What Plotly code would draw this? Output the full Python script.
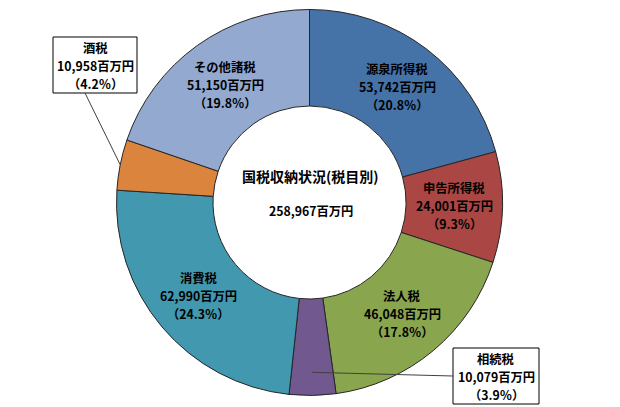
import math
import plotly.graph_objects as go

# ---- data ----
labels = ["源泉所得税", "申告所得税", "法人税", "相続税", "消費税", "酒税", "その他諸税"]
values = [53742, 24001, 46048, 10079, 62990, 10958, 51150]
colors = ["#4572A7", "#AA4643", "#89A54E", "#71588F", "#4198AF", "#DB843D", "#93A9CF"]
total_label = "258,967"
title_text = "国税収納状況(税目別)"
boxed = ["酒税", "相続税"]

# ---- geometry (pixels) ----
W, H = 620, 407
CX, CY, R = 309.5, 202.5, 193
HOLE = 0.5
FONT = "Noto Sans CJK JP, Noto Sans, sans-serif"
FS = 12.3
LH = 18


def px(x):
    return x / W


def py(y):
    return 1 - y / H


total = sum(values)
fig = go.Figure()
fig.add_trace(go.Pie(
    labels=labels, values=values, sort=False, direction="clockwise", rotation=0,
    hole=HOLE, textinfo="none", hoverinfo="label+value+percent",
    marker=dict(colors=colors, line=dict(color="#262626", width=1)),
    domain=dict(x=[px(CX - R), px(CX + R)], y=[py(CY + R), py(CY - R)]),
    showlegend=False,
))

annotations = []
shapes = []


def add_label(name, v, x, y):
    lines = [name, f"{v:,}百万円", f"（{v / total * 100:.1f}％）"]
    for i, t in enumerate(lines):
        annotations.append(dict(x=px(x), y=py(y + (i - 1) * LH), xref="paper", yref="paper",
                                text=f"<b>{t}</b>", showarrow=False,
                                xanchor="center", yanchor="middle",
                                font=dict(family=FONT, size=FS, color="#000")))


cum = 0
mid_angles = {}
for name, v in zip(labels, values):
    mid = (cum + v / 2) / total * 2 * math.pi
    mid_angles[name] = mid
    cum += v
    if name in boxed:
        continue
    rr = R * (1 + HOLE) / 2
    add_label(name, v, CX + rr * math.sin(mid), CY - rr * math.cos(mid))

# boxed labels
box_rect = {"酒税": (53, 37, 137, 93), "相続税": (453, 348, 539, 404)}
for name, v in zip(labels, values):
    if name not in boxed:
        continue
    x0, y0, x1, y1 = box_rect[name]
    shapes.append(dict(type="rect", xref="paper", yref="paper",
                       x0=px(x0), y0=py(y1), x1=px(x1), y1=py(y0),
                       line=dict(color="#000", width=1), fillcolor="#fff"))
    add_label(name, v, (x0 + x1) / 2, (y0 + y1) / 2 + 1)

# leader lines
a = mid_angles["酒税"]
ex, ey = CX + R * math.sin(a), CY - R * math.cos(a)
shapes.append(dict(type="line", xref="paper", yref="paper",
                   x0=px(85), y0=py(93), x1=px(ex), y1=py(ey),
                   line=dict(color="#404040", width=1)))
a = mid_angles["相続税"]
sx, sy = CX + 0.88 * R * math.sin(a), CY - 0.88 * R * math.cos(a)
shapes.append(dict(type="line", xref="paper", yref="paper",
                   x0=px(sx), y0=py(sy), x1=px(453), y1=py(376),
                   line=dict(color="#404040", width=1)))

# centre text
annotations.append(dict(x=px(310), y=py(176), xref="paper", yref="paper",
                        text=f"<b>{title_text}</b>", showarrow=False,
                        xanchor="center", yanchor="middle",
                        font=dict(family=FONT, size=14, color="#000")))
annotations.append(dict(x=px(311), y=py(211), xref="paper", yref="paper",
                        text=f"<b>{total_label}百万円</b>", showarrow=False,
                        xanchor="center", yanchor="middle",
                        font=dict(family=FONT, size=FS, color="#000")))

fig.update_layout(width=W, height=H, margin=dict(l=0, r=0, t=0, b=0),
                  paper_bgcolor="#fff", plot_bgcolor="#fff",
                  annotations=annotations, shapes=shapes)
fig.write_html("out.html")
